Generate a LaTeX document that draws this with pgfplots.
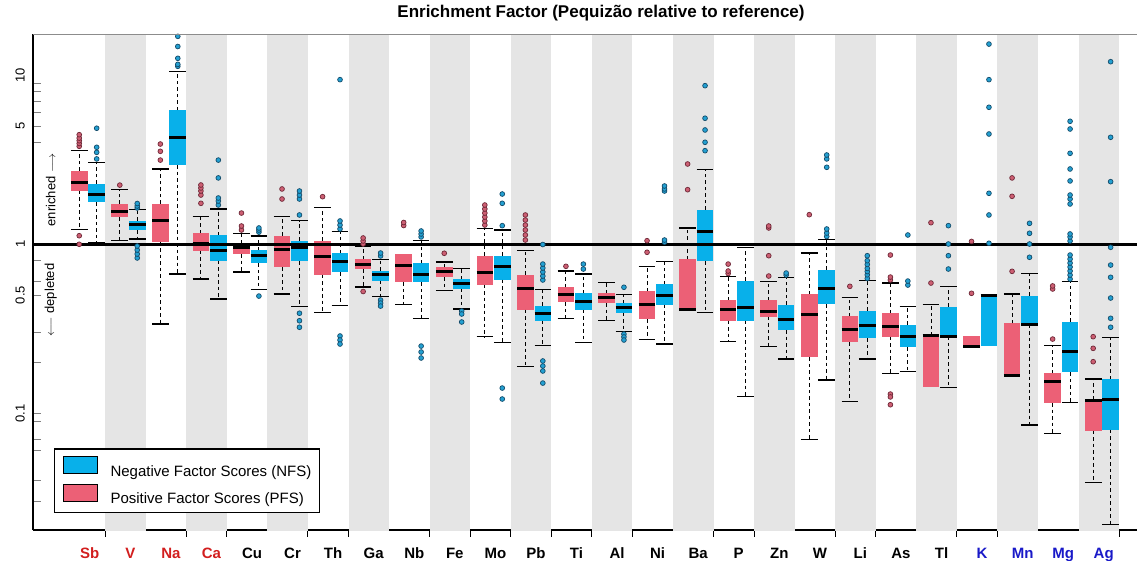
\documentclass[border=0pt]{standalone}
\usepackage{pgfplots}
\pgfplotsset{compat=1.18}
\usepackage{fontspec}
\setmainfont{Liberation Sans}

\definecolor{pfs}{RGB}{236,96,118}
\definecolor{nfs}{RGB}{8,176,234}
\definecolor{pfsdot}{RGB}{205,95,115}
\definecolor{pfsedge}{RGB}{110,40,55}
\definecolor{nfsdot}{RGB}{35,160,210}
\definecolor{nfsedge}{RGB}{20,75,105}
\definecolor{band}{RGB}{229,229,229}
\definecolor{labred}{RGB}{210,30,30}
\definecolor{labblue}{RGB}{25,25,200}

\pgfplotsset{
  whisk/.style={forget plot, black, line width=0.9pt, dash pattern=on 3.5pt off 3pt},
  wcap/.style={forget plot, black, line width=1.1pt},
  wmed/.style={forget plot, black, line width=3pt},
}

% one box: #1 fill, #2 centre, #3 lower whisker, #4 Q1, #5 median, #6 Q3, #7 upper whisker
% (a whisker equal to its quartile is not drawn)
\newcommand\bx[7]{%
  \pgfmathsetmacro\xl{#2-0.205}\pgfmathsetmacro\xr{#2+0.205}%
  \addplot[forget plot, fill=#1, draw=none] coordinates {(\xl,#4)(\xr,#4)(\xr,#6)(\xl,#6)} -- cycle;
  \ifdim#7pt=#6pt\else
    \addplot[whisk] coordinates {(#2,#6)(#2,#7)};
    \addplot[wcap] coordinates {(\xl,#7)(\xr,#7)};
  \fi
  \ifdim#3pt=#4pt\else
    \addplot[whisk] coordinates {(#2,#4)(#2,#3)};
    \addplot[wcap] coordinates {(\xl,#3)(\xr,#3)};
  \fi
  \addplot[wmed] coordinates {(\xl,#5)(\xr,#5)};
}
\newcommand\pout[1]{\addplot[forget plot, only marks, mark=*, mark size=2.4pt,
  mark options={fill=pfsdot, draw=pfsedge, line width=0.7pt}] coordinates {#1};}
\newcommand\nout[1]{\addplot[forget plot, only marks, mark=*, mark size=2.4pt,
  mark options={fill=nfsdot, draw=nfsedge, line width=0.7pt}] coordinates {#1};}

\begin{document}
\begin{tikzpicture}[x=1pt,y=1pt]
\useasboundingbox (0,0) rectangle (1137,560);
\begin{axis}[
  at={(33pt,30pt)}, anchor=south west,
  scale only axis, width=1104pt, height=495.5pt,
  ymode=log, ymin=0.0204, ymax=17.43, xmin=-1.28, xmax=25.94,
  axis x line*=bottom, axis y line*=left,
  x axis line style={-, line width=1.3pt},
  y axis line style={-, line width=1.3pt},
  tick align=inside, major tick length=8pt,
  ytick={0.03,0.04,0.06,0.07,0.09,0.1,0.2,0.3,0.5,0.6,0.8,1,4,5,6,7,8,9},
  yticklabels={,,,,,0.1,,,0.5,,,1,,5,,,,},
  minor ytick={}, ytick style={line width=0.8pt},
  extra y ticks={10}, extra y tick labels={10},
  extra y tick style={ytick style={draw=none}},
  yticklabel style={rotate=90, anchor=south, inner sep=0pt,
    font=\fontsize{13}{13}\selectfont},
  yticklabel shift=8pt,
  xtick={0.12,1.12,2.12,3.12,4.12,5.12,6.12,7.12,8.12,9.12,10.12,11.12,12.12,
    13.12,14.12,15.12,16.12,17.12,18.12,19.12,20.12,21.12,22.12,23.12,24.12,25.12},
  xticklabels={\textcolor{labred}{Sb},\textcolor{labred}{V},\textcolor{labred}{Na},
    \textcolor{labred}{Ca},Cu,Cr,Th,Ga,Nb,Fe,Mo,Pb,Ti,Al,Ni,Ba,P,Zn,W,Li,As,Tl,
    \textcolor{labblue}{K},\textcolor{labblue}{Mn},\textcolor{labblue}{Mg},\textcolor{labblue}{Ag}},
  xtick style={draw=none},
  xticklabel style={anchor=base, inner sep=0pt, font=\bfseries\fontsize{15}{15}\selectfont},
  xticklabel shift=28pt,
  extra x ticks={0.5,2.5,3.5,5.5,6.5,8.5,9.5,10.5,11.5,12.5,13.5,15.5,16.5,18.5,19.5,21.5,22.5,25.5},
  extra x tick labels={},
  extra x tick style={xtick style={draw=black, line width=1pt}, tick align=outside, major tick length=7pt},
  title={Enrichment Factor (Pequizão relative to reference)},
  title style={at={(axis description cs:0.5145,1)}, anchor=base, yshift=10.5pt,
    font=\bfseries\fontsize{17}{17}\selectfont},
  legend cell align=left,
  legend style={at={(axis description cs:0.019,0.0343)}, anchor=south west,
    draw=black, line width=1.3pt, fill=white, inner xsep=8pt, inner ysep=7pt,
    row sep=6pt, nodes={inner sep=0pt}, font=\fontsize{15}{15}\selectfont,
    /tikz/every odd column/.append style={column sep=13pt}},
  legend image code/.code={\draw[#1, line width=0.9pt] (0pt,-2pt) rectangle (34pt,15pt);},
]
\addlegendimage{fill=nfs, draw=black}
\addlegendentry{Negative Factor Scores (NFS)}
\addlegendimage{fill=pfs, draw=black}
\addlegendentry{Positive Factor Scores (PFS)}

% alternating background bands
\addplot[forget plot, fill=band, draw=none] coordinates {(0.5,0.01)(1.5,0.01)(1.5,100)(0.5,100)} -- cycle;
\addplot[forget plot, fill=band, draw=none] coordinates {(2.5,0.01)(3.5,0.01)(3.5,100)(2.5,100)} -- cycle;
\addplot[forget plot, fill=band, draw=none] coordinates {(4.5,0.01)(5.5,0.01)(5.5,100)(4.5,100)} -- cycle;
\addplot[forget plot, fill=band, draw=none] coordinates {(6.5,0.01)(7.5,0.01)(7.5,100)(6.5,100)} -- cycle;
\addplot[forget plot, fill=band, draw=none] coordinates {(8.5,0.01)(9.5,0.01)(9.5,100)(8.5,100)} -- cycle;
\addplot[forget plot, fill=band, draw=none] coordinates {(10.5,0.01)(11.5,0.01)(11.5,100)(10.5,100)} -- cycle;
\addplot[forget plot, fill=band, draw=none] coordinates {(12.5,0.01)(13.5,0.01)(13.5,100)(12.5,100)} -- cycle;
\addplot[forget plot, fill=band, draw=none] coordinates {(14.5,0.01)(15.5,0.01)(15.5,100)(14.5,100)} -- cycle;
\addplot[forget plot, fill=band, draw=none] coordinates {(16.5,0.01)(17.5,0.01)(17.5,100)(16.5,100)} -- cycle;
\addplot[forget plot, fill=band, draw=none] coordinates {(18.5,0.01)(19.5,0.01)(19.5,100)(18.5,100)} -- cycle;
\addplot[forget plot, fill=band, draw=none] coordinates {(20.5,0.01)(21.5,0.01)(21.5,100)(20.5,100)} -- cycle;
\addplot[forget plot, fill=band, draw=none] coordinates {(22.5,0.01)(23.5,0.01)(23.5,100)(22.5,100)} -- cycle;
\addplot[forget plot, fill=band, draw=none] coordinates {(24.5,0.01)(25.5,0.01)(25.5,100)(24.5,100)} -- cycle;

% boxes: PFS (left) and NFS (right) for each element
\bx{pfs}{-0.14}{1.23}{2.075}{2.305}{2.73}{3.6}
\bx{nfs}{0.29}{1.02}{1.773}{1.966}{2.275}{3.06}
\bx{pfs}{0.86}{1.05}{1.445}{1.568}{1.732}{2.1}
\bx{nfs}{1.29}{1.075}{1.215}{1.306}{1.379}{1.602}
\bx{pfs}{1.86}{0.3376}{1.036}{1.392}{1.732}{2.79}
\bx{nfs}{2.29}{0.667}{2.945}{4.256}{6.23}{10.5}
\bx{pfs}{2.86}{0.623}{0.917}{1.014}{1.166}{1.457}
\bx{nfs}{3.29}{0.4747}{0.80}{0.925}{1.135}{1.618}
\bx{pfs}{3.86}{0.686}{0.876}{0.951}{1.01}{1.16}
\bx{nfs}{4.29}{0.537}{0.772}{0.853}{0.925}{1.12}
\bx{pfs}{4.86}{0.508}{0.731}{0.929}{1.124}{1.457}
\bx{nfs}{5.29}{0.427}{0.793}{0.96}{1.05}{1.379}
\bx{pfs}{5.86}{0.396}{0.661}{0.849}{1.05}{1.655}
\bx{nfs}{6.29}{0.433}{0.683}{0.793}{0.888}{1.194}
\bx{pfs}{6.86}{0.559}{0.714}{0.764}{0.818}{0.973}
\bx{nfs}{7.29}{0.49}{0.609}{0.661}{0.698}{0.815}
\bx{pfs}{7.86}{0.439}{0.596}{0.747}{0.876}{0.876}
\bx{nfs}{8.29}{0.365}{0.596}{0.667}{0.772}{1.05}
\bx{pfs}{8.86}{0.531}{0.638}{0.692}{0.731}{0.786}
\bx{nfs}{9.29}{0.414}{0.544}{0.588}{0.623}{0.721}
\bx{pfs}{9.86}{0.284}{0.577}{0.683}{0.856}{1.244}
\bx{nfs}{10.29}{0.263}{0.617}{0.741}{0.856}{1.215}
\bx{pfs}{10.86}{0.19}{0.41}{0.551}{0.661}{0.92}
\bx{nfs}{11.29}{0.251}{0.353}{0.391}{0.433}{0.537}
\bx{pfs}{11.86}{0.365}{0.454}{0.503}{0.557}{0.695}
\bx{nfs}{12.29}{0.263}{0.409}{0.4575}{0.513}{0.667}
\bx{pfs}{12.86}{0.352}{0.448}{0.483}{0.513}{0.596}
\bx{nfs}{13.29}{0.304}{0.394}{0.4215}{0.448}{0.506}
\bx{pfs}{13.86}{0.275}{0.361}{0.443}{0.5257}{0.737}
\bx{nfs}{14.29}{0.257}{0.439}{0.4965}{0.582}{0.789}
\bx{pfs}{14.86}{0.409}{0.409}{0.41}{0.818}{1.249}
\bx{nfs}{15.29}{0.396}{0.793}{1.194}{1.596}{2.764}
\bx{pfs}{15.86}{0.2667}{0.353}{0.409}{0.468}{0.643}
\bx{nfs}{16.29}{0.126}{0.353}{0.4238}{0.609}{0.96}
\bx{pfs}{16.86}{0.248}{0.373}{0.4015}{0.468}{0.604}
\bx{nfs}{17.29}{0.2096}{0.311}{0.361}{0.439}{0.638}
\bx{pfs}{17.86}{0.0698}{0.2145}{0.383}{0.508}{0.888}
\bx{nfs}{18.29}{0.1574}{0.443}{0.544}{0.705}{1.065}
\bx{pfs}{18.86}{0.1171}{0.263}{0.3123}{0.375}{0.486}
\bx{nfs}{19.29}{0.2096}{0.279}{0.33}{0.4046}{0.609}
\bx{pfs}{19.86}{0.173}{0.284}{0.3254}{0.391}{0.59}
\bx{nfs}{20.29}{0.1772}{0.2458}{0.2855}{0.3344}{0.4297}
\bx{pfs}{20.86}{0.1425}{0.1425}{0.288}{0.288}{0.439}
\bx{nfs}{21.29}{0.1425}{0.2855}{0.2855}{0.427}{0.564}
\bx{pfs}{21.86}{0.249}{0.249}{0.25}{0.2855}{0.2855}
\bx{nfs}{22.29}{0.249}{0.249}{0.497}{0.501}{0.501}
\bx{pfs}{22.86}{0.1669}{0.1669}{0.1675}{0.3407}{0.508}
\bx{nfs}{23.29}{0.0853}{0.3344}{0.3376}{0.497}{0.674}
\bx{pfs}{23.86}{0.0764}{0.115}{0.1546}{0.173}{0.251}
\bx{nfs}{24.29}{0.1162}{0.1748}{0.2327}{0.3484}{0.6}
\bx{pfs}{24.86}{0.0391}{0.0789}{0.1195}{0.1199}{0.1596}
\bx{nfs}{25.29}{0.0221}{0.08}{0.1204}{0.1596}{0.2816}

% reference level EF = 1
\addplot[forget plot, black, line width=2.6pt] coordinates {(-1.28,1) (25.94,1)};

% outliers
\pout{(-0.14,1.0)(-0.14,1.124)(-0.14,3.8)(-0.14,3.95)(-0.14,4.1)(-0.14,4.25)(-0.14,4.45)}
\nout{(0.29,3.2)(0.29,3.5)(0.29,3.75)(0.29,4.86)}
\pout{(0.86,2.24)}
\nout{(1.29,1.64)(1.29,1.685)(1.29,1.743)(1.29,0.83)(1.29,0.876)(1.29,0.925)(1.29,0.977)}
\pout{(1.86,3.15)(1.86,3.55)(1.86,3.92)}
\nout{(2.29,11.3)(2.29,11.6)(2.29,12.6)(2.29,14.8)(2.29,17.0)}
\pout{(2.86,1.748)(2.86,1.957)(2.86,2.067)(2.86,2.154)(2.86,2.243)}
\nout{(3.29,1.708)(3.29,1.804)(3.29,1.879)(3.29,2.47)(3.29,3.15)}
\pout{(3.86,1.215)(3.86,1.283)(3.86,1.531)}
\nout{(4.29,1.18)(4.29,1.215)(4.29,1.249)(4.29,0.494)}
\pout{(4.86,1.854)(4.86,2.125)}
\nout{(5.29,1.491)(5.29,1.854)(5.29,1.957)(5.29,2.067)(5.29,0.391)(5.29,0.353)(5.29,0.323)}
\pout{(5.86,1.913)}
\nout{(6.29,1.232)(6.29,1.30)(6.29,1.374)(6.29,9.42)(6.29,0.2867)(6.29,0.2715)(6.29,0.257)}
\pout{(6.86,1.004)(6.86,1.046)(6.86,1.09)(6.86,0.5257)}
\nout{(7.29,0.853)(7.29,0.888)(7.29,0.468)(7.29,0.449)(7.29,0.431)}
\pout{(7.86,1.292)(7.86,1.346)}
\nout{(8.29,1.105)(8.29,1.151)(8.29,1.199)(8.29,0.25)(8.29,0.2305)(8.29,0.2125)}
\pout{(8.86,0.885)}
\nout{(9.29,0.403)(9.29,0.387)(9.29,0.347)}
\pout{(9.86,1.30)(9.86,1.374)(9.86,1.45)(9.86,1.531)(9.86,1.618)(9.86,1.708)}
\nout{(10.29,1.289)(10.29,1.748)(10.29,1.984)(10.29,0.1411)(10.29,0.1215)}
\pout{(10.86,1.06)(10.86,1.135)(10.86,1.215)(10.86,1.30)(10.86,1.392)(10.86,1.491)}
\nout{(11.29,0.615)(11.29,0.649)(11.29,0.686)(11.29,0.724)(11.29,0.764)(11.29,0.997)(11.29,0.204)(11.29,0.1905)(11.29,0.178)(11.29,0.151)}
\pout{(11.86,0.741)}
\nout{(12.29,0.714)(12.29,0.764)}
\nout{(13.29,0.557)(13.29,0.2945)(13.29,0.283)(13.29,0.2715)}
\pout{(13.86,0.897)(13.86,1.05)}
\nout{(14.29,1.03)(14.29,1.06)(14.29,2.067)(14.29,2.125)(14.29,2.213)}
\pout{(14.86,2.104)(14.86,2.986)}
\nout{(15.29,3.58)(15.29,4.015)(15.29,4.746)(15.29,5.57)(15.29,8.68)}
\pout{(15.86,0.672)(15.86,0.695)(15.86,0.764)}
\pout{(16.86,0.649)(16.86,0.856)(16.86,1.249)(16.86,1.283)}
\nout{(17.29,0.658)(17.29,0.676)}
\pout{(17.86,1.497)}
\nout{(18.29,1.112)(18.29,1.166)(18.29,1.232)(18.29,2.855)(18.29,3.2)(18.29,3.376)}
\pout{(18.86,0.564)}
\nout{(19.29,0.628)(19.29,0.66)(19.29,0.69)(19.29,0.72)(19.29,0.76)(19.29,0.80)(19.29,0.856)}
\pout{(19.86,0.615)(19.86,0.64)(19.86,0.864)(19.86,0.130)(19.86,0.125)(19.86,0.1124)}
\nout{(20.29,0.574)(20.29,0.606)(20.29,1.135)}
\pout{(20.86,0.59)(20.86,1.342)}
\nout{(21.29,0.714)(21.29,0.856)(21.29,1.004)(21.29,1.289)}
\pout{(21.86,0.513)(21.86,1.04)}
\nout{(22.29,1.014)(22.29,1.491)(22.29,2.003)(22.29,4.494)(22.29,6.467)(22.29,9.42)(22.29,15.3)}
\pout{(22.86,0.692)(22.86,1.923)(22.86,2.47)}
\nout{(23.29,0.838)(23.29,1.004)(23.29,1.162)(23.29,1.331)}
\pout{(23.86,0.275)(23.86,0.544)(23.86,0.567)}
\nout{(24.29,0.623)(24.29,0.658)(24.29,0.695)(24.29,0.734)(24.29,0.775)(24.29,0.818)(24.29,0.864)(24.29,1.046)(24.29,1.105)(24.29,1.151)(24.29,1.732)(24.29,1.854)(24.29,1.957)(24.29,2.37)(24.29,2.79)(24.29,3.455)(24.29,4.81)(24.29,5.345)}
\pout{(24.86,0.202)(24.86,0.2424)(24.86,0.284)}
\nout{(25.29,0.323)(25.29,0.365)(25.29,0.481)(25.29,0.638)(25.29,0.754)(25.29,0.96)(25.29,2.347)(25.29,4.297)(25.29,12.03)}

% direction hints beside the axis
\node[rotate=90, font=\fontsize{13}{13}\selectfont] at (axis cs:-0.84,2.096) {enriched $\longrightarrow$};
\node[rotate=90, font=\fontsize{13}{13}\selectfont] at (axis cs:-0.84,0.468) {$\longleftarrow$ depleted};
\end{axis}
\draw[black!45, line width=1.3pt] (33,525.5) -- (1137,525.5);
\end{tikzpicture}
\end{document}
